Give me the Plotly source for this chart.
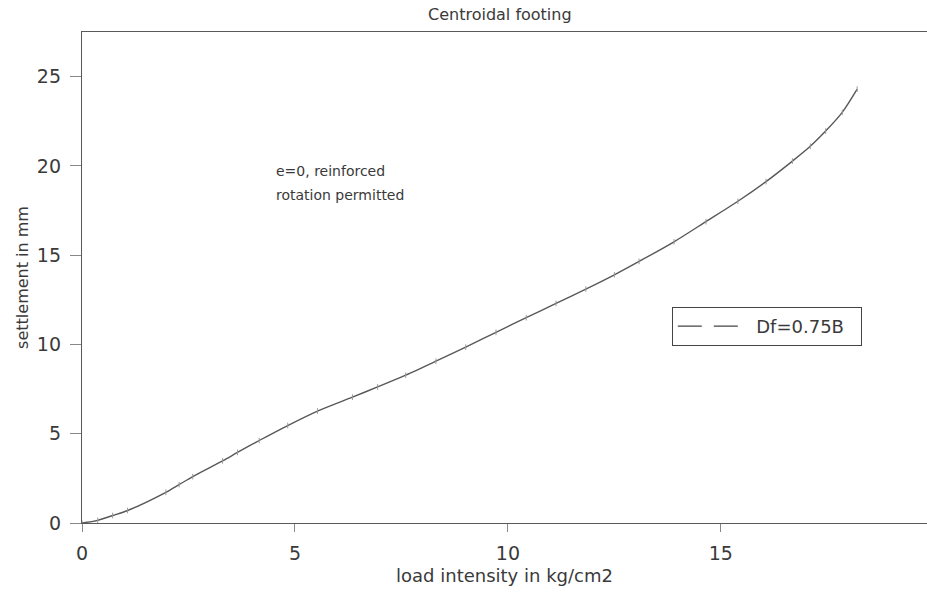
import plotly.graph_objects as go

# Load-settlement curve for the centroidal footing (Df = 0.75B)
load_intensity = [0.0, 0.37, 0.72, 1.07, 1.97, 2.28, 2.6, 3.3, 3.65, 4.16, 4.83,
                  5.53, 6.35, 6.94, 7.6, 8.31, 9.01, 9.72, 10.43, 11.13, 11.83,
                  12.5, 13.08, 13.9, 14.65, 15.4, 16.06, 16.68, 17.1, 17.46,
                  17.85, 18.2]
settlement = [0.0, 0.15, 0.42, 0.7, 1.72, 2.15, 2.6, 3.48, 3.95, 4.62, 5.46,
              6.27, 7.05, 7.62, 8.28, 9.06, 9.85, 10.68, 11.5, 12.3, 13.1,
              13.9, 14.65, 15.75, 16.88, 18.02, 19.12, 20.27, 21.1, 21.95,
              23.0, 24.3]

series_name = "\u00a0\u00a0Df=0.75B\u00a0\u00a0"
x_ticks = [0, 5, 10, 15]
y_ticks = [0, 5, 10, 15, 20, 25]

FONT = "DejaVu Sans, Arial, sans-serif"
INK = "#3a3a3a"

fig = go.Figure()

# measured curve
fig.add_trace(go.Scatter(
    x=load_intensity, y=settlement, mode="lines+markers",
    line=dict(color="#585858", width=1.4, shape="spline", smoothing=0.8),
    marker=dict(symbol="line-ns", size=4, line=dict(color="#9a9a9a", width=1)),
    showlegend=False,
))

# legend key (dashed style)
fig.add_trace(go.Scatter(
    x=[None], y=[None], mode="lines", name=series_name,
    line=dict(color="#444444", width=1.2, dash="24px,12px"),
))

fig.update_layout(
    width=927, height=592,
    margin=dict(l=82, r=0, t=32, b=69),
    paper_bgcolor="white", plot_bgcolor="white",
    font=dict(family=FONT, color=INK),
    xaxis=dict(
        range=[0, 19.84], tickvals=x_ticks, showgrid=False, zeroline=False,
        showline=True, linecolor="#5a5a5a", linewidth=1.3, mirror=True,
        ticks="outside", ticklen=8, tickcolor="#888888",
        ticklabelstandoff=5,
        tickfont=dict(size=19, color=INK),
        title=dict(text="load intensity in kg/cm2", font=dict(size=18, color=INK),
                   standoff=6),
    ),
    yaxis=dict(
        range=[0, 27.5], tickvals=y_ticks, showgrid=False, zeroline=False,
        showline=True, linecolor="#5a5a5a", linewidth=1.3,
        ticks="outside", ticklen=11, tickcolor="#888888",
        ticklabelstandoff=5,
        tickfont=dict(size=19, color=INK),
        title=dict(text="settlement in mm", font=dict(size=16, color=INK),
                   standoff=4),
    ),
    legend=dict(
        x=0.698, y=0.44, xanchor="left", yanchor="top",
        bordercolor="#444444", borderwidth=1, bgcolor="white",
        font=dict(size=18, color=INK), itemwidth=62,
    ),
    annotations=[
        dict(text="Centroidal footing", xref="paper", yref="paper",
             x=0.495, y=1, xanchor="center", yanchor="bottom", yshift=6,
             showarrow=False, font=dict(size=16, color=INK)),
        dict(text="e=0, reinforced", xref="x", yref="y", x=4.5, y=19.7,
             xanchor="left", yanchor="middle", showarrow=False,
             font=dict(size=14, color=INK)),
        dict(text="rotation permitted", xref="x", yref="y", x=4.5, y=18.35,
             xanchor="left", yanchor="middle", showarrow=False,
             font=dict(size=14, color=INK)),
    ],
)

fig.write_html("out.html")
